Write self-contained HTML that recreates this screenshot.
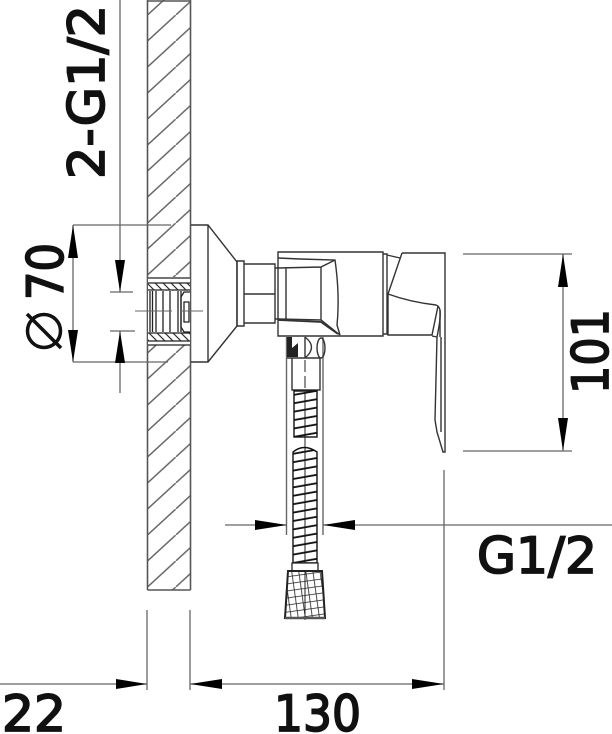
<!DOCTYPE html>
<html><head><meta charset="utf-8"><style>
html,body{margin:0;padding:0;background:#fff}
svg{display:block}
text{font-family:"DejaVu Sans","Liberation Sans",sans-serif;fill:#111;stroke:#111;stroke-width:1.8;font-weight:normal}
</style></head><body>
<svg width="612" height="734" viewBox="0 0 612 734" xmlns="http://www.w3.org/2000/svg">
<defs>
<pattern id="h" width="28.3" height="26" patternUnits="userSpaceOnUse" patternTransform="translate(147.5 15)">
<path d="M-2 27.840L30.300 -1.840" stroke="#666" stroke-width="1.5" fill="none"/>
</pattern>
<pattern id="s" width="8" height="8" patternUnits="userSpaceOnUse">
<path d="M-2 -2L10 10M-2 6L2 10M6 -2L10 2" stroke="#333" stroke-width="1.2"/>
</pattern>
<pattern id="sp" width="25" height="8.4" patternUnits="userSpaceOnUse" patternTransform="translate(293 391) skewY(-10)">
<path d="M0 4H25" stroke="#111" stroke-width="1.8"/>
</pattern>
<pattern id="x" width="7" height="7" patternUnits="userSpaceOnUse" patternTransform="rotate(-8 305 590)">
<path d="M0 0H7M0 0V7" stroke="#222" stroke-width="1.6"/>
</pattern>
</defs>
<!-- wall -->
<rect x="147.5" y="0" width="43" height="277" fill="url(#h)"/>
<rect x="147.5" y="345" width="43" height="245" fill="url(#h)"/>
<path d="M147.5 0V590M190.5 0V590M147.5 590H190.5M147.5 1H190.5" stroke="#555" stroke-width="1.6" fill="none"/>
<!-- socket -->
<rect x="148" y="277" width="42" height="68" fill="#fff"/>
<rect x="148" y="283" width="42" height="7" fill="url(#s)"/>
<rect x="148" y="333" width="42" height="8" fill="url(#s)"/>
<g stroke="#222" stroke-width="1.3" fill="none">
<path d="M148 278H190M148 283H190M148 290H190M148 333H190M148 341H190M148 345H190"/>
<path d="M150 291V332M152.500 291V332M156 291V332M163 291V332M170 291V332M178 291V332M181 291V332"/>
<path d="M190 292H184L181 297V327L184 332H190M184 302H189V322H184Z"/>
</g>
<path d="M135 311H172M180 311H203" stroke="#666" stroke-width="1"/>
<!-- plate & cone -->
<g stroke="#333" stroke-width="1.4" fill="none">
<path d="M191 225H208L237 262V326L208 362H191M208 225V362"/>
<path d="M237 261H244V326H237Z"/>
<path d="M244 264H275V323H244M244 294H275M275 268H278M275 319H278M275 268V319"/>
<!-- body -->
<path d="M278 252H383V336H278Z"/>
<path d="M383 254H387V334H383"/>
<path d="M278 258L300 259L335 260Q340 295 337 325L340 335"/>
<path d="M278 268L321 267L335 260M286 268V319M321 267V320M278 319L321 320L340 335"/>
<path d="M278 320L321 322L338 334" stroke-width="1.8"/>
<!-- handle -->
<path d="M387 255L400 258M402 253H445V452H443L437 432L435 420L437 337Q441 318 440 310Q439 306 436 305Q410 302 388 294L402 253M388 294V335H432L438 306M432 336L437 337"/>
<path d="M440 310V337M441 337V432"/>
<!-- hose fitting -->
<path d="M286.500 337V535M323 337V535" stroke="#666"/>
<path d="M292 358V390H320V358M287 358H320"/>
<path d="M305 337Q318 347 305 358M305 337V358"/>
<ellipse cx="321" cy="348" rx="4" ry="10"/>
</g>
<path d="M287 337H298V357H287Z" fill="#222"/>
<path d="M292 337H298V343L292 348Z" fill="#fff"/>
<path d="M305 360V372M305 376V388M305 392V620" stroke="#222" stroke-width="1"/>
<!-- springs -->
<g stroke="#111" stroke-width="1.4">
<rect x="294" y="391" width="23" height="46" fill="url(#sp)"/>
<path d="M293 452Q304 443 317 452V563H293Z" fill="url(#sp)"/>
</g>
<!-- nut -->
<path d="M292 563H318V571H292Z" fill="#fff" stroke="#222" stroke-width="1.3"/>
<path d="M288 571H322L325 618H285Z" fill="url(#x)" stroke="#222" stroke-width="2"/>
<path d="M285 618H325" stroke="#555" stroke-width="2.5"/>
<!-- dimension lines -->
<g stroke="#666" stroke-width="1.3" fill="none">
<path d="M120 0V292M110 292H133M110 331H135M120 331V393"/>
<path d="M73 225H171M73 362H168M73 225V362"/>
<path d="M463 254H572M463 451H572M563 254V451"/>
<path d="M225 525H287M323 525H612"/>
<path d="M147 610V690M190 610V690M444 470V690"/>
<path d="M0 684H147M190 684H444"/>
</g>
<g fill="#000">
<path d="M120 292L115 260H125Z"/><path d="M120 331L115 363H125Z"/>
<path d="M73 225L68 258H78Z"/><path d="M73 362L68 330H78Z"/>
<path d="M563 254L558 287H568Z"/><path d="M563 451L558 418H568Z"/>
<path d="M287 525L255 520V530Z"/><path d="M323 525L355 520V530Z"/>
<path d="M147 684L116 679V689Z"/><path d="M190 684L222 679V689Z"/><path d="M444 684L412 679V689Z"/>
</g>
<!-- labels -->
<text transform="translate(104 179) rotate(-90)" font-size="50" textLength="174" lengthAdjust="spacingAndGlyphs">2-G1/2</text>
<text transform="translate(63 300) rotate(-90)" font-size="50" textLength="57" lengthAdjust="spacingAndGlyphs">70</text>
<g transform="translate(44 331)" fill="none" stroke="#111" stroke-width="3.5"><circle r="16.500"/><path d="M-17 -17L17 17"/></g>
<text transform="translate(608 394) rotate(-90)" font-size="50" textLength="85" lengthAdjust="spacingAndGlyphs">101</text>
<text x="477" y="573" font-size="50" textLength="120" lengthAdjust="spacingAndGlyphs">G1/2</text>
<text x="2" y="731" font-size="50" textLength="64" lengthAdjust="spacingAndGlyphs">22</text>
<text x="274" y="731" font-size="50" textLength="87" lengthAdjust="spacingAndGlyphs">130</text>
</svg>
</body></html>
